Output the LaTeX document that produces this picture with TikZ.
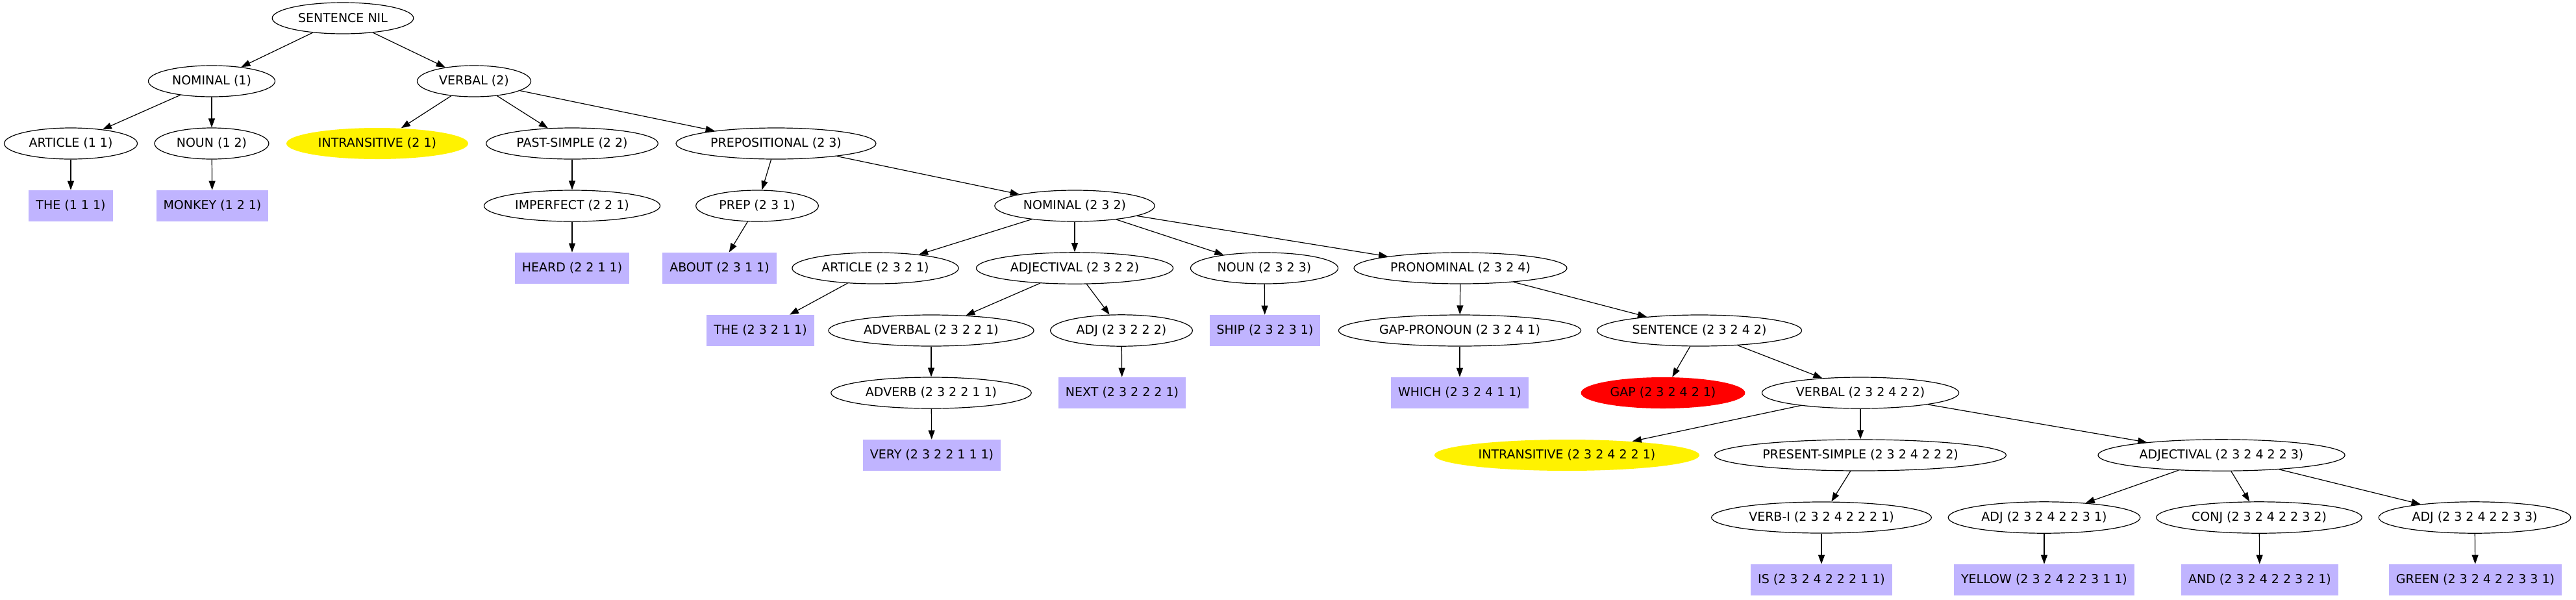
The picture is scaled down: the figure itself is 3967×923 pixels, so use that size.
\documentclass[tikz,border=0pt]{standalone}
\usepackage{fontspec}
\setmainfont{DejaVu Sans}
\usetikzlibrary{shapes.geometric,arrows.meta}

\definecolor{leaffill}{RGB}{192,180,255}

\tikzset{
    phrase/.style={draw, ellipse, line width=0.6pt, inner xsep=4pt, inner ysep=4pt,
        minimum height=24pt, font=\fontsize{9.5}{11}\selectfont},
    intrans/.style={phrase, draw=none, fill=yellow},
    gapnode/.style={phrase, draw=none, fill=red},
    word/.style={rectangle, fill=leaffill, inner xsep=5.5pt, minimum height=24pt,
        font=\fontsize{9.5}{11}\selectfont},
    branch/.style={-{Triangle[length=7pt,width=5pt]}, line width=0.6pt}
}

\begin{document}
\begin{tikzpicture}[x=0.5pt, y=-0.5pt]
    \useasboundingbox (0,0) rectangle (3967,923);

    % Top of the tree
    \node[phrase] (root) at (528,28) {SENTENCE NIL};
    \node[phrase] (nom1) at (326,125) {NOMINAL (1)};
    \node[phrase] (verb2) at (730,125) {VERBAL (2)};

    % Subject
    \node[phrase] (art11) at (109,221) {ARTICLE (1 1)};
    \node[phrase] (noun12) at (326,221) {NOUN (1 2)};
    \node[word] (the111) at (109,317) {THE (1 1 1)};
    \node[word] (monkey) at (327,317) {MONKEY (1 2 1)};

    % Verb phrase
    \node[intrans] (intr21) at (581,221) {INTRANSITIVE (2 1)};
    \node[phrase] (past22) at (881,221) {PAST-SIMPLE (2 2)};
    \node[phrase] (prepl23) at (1195,221) {PREPOSITIONAL (2 3)};
    \node[phrase] (imp221) at (881,317) {IMPERFECT (2 2 1)};
    \node[word] (heard) at (881,413) {HEARD (2 2 1 1)};
    \node[phrase] (prep231) at (1166,317) {PREP (2 3 1)};
    \node[word] (about) at (1108,413) {ABOUT (2 3 1 1)};

    % Object of the preposition
    \node[phrase] (nom232) at (1655,317) {NOMINAL (2 3 2)};
    \node[phrase] (art2321) at (1348,413) {ARTICLE (2 3 2 1)};
    \node[phrase] (adjl2322) at (1655,413) {ADJECTIVAL (2 3 2 2)};
    \node[phrase] (noun2323) at (1947,413) {NOUN (2 3 2 3)};
    \node[phrase] (pron2324) at (2249,413) {PRONOMINAL (2 3 2 4)};
    \node[word] (the23211) at (1171,509) {THE (2 3 2 1 1)};
    \node[phrase] (advl) at (1434,509) {ADVERBAL (2 3 2 2 1)};
    \node[phrase] (adj23222) at (1727,509) {ADJ (2 3 2 2 2)};
    \node[word] (ship) at (1948,509) {SHIP (2 3 2 3 1)};
    \node[phrase] (adverb) at (1434,605) {ADVERB (2 3 2 2 1 1)};
    \node[word] (next) at (1728,605) {NEXT (2 3 2 2 2 1)};
    \node[word] (very) at (1435,701) {VERY (2 3 2 2 1 1 1)};

    % Relative clause
    \node[phrase] (gappron) at (2248,509) {GAP-PRONOUN (2 3 2 4 1)};
    \node[phrase] (sent) at (2617,509) {SENTENCE (2 3 2 4 2)};
    \node[word] (which) at (2248,605) {WHICH (2 3 2 4 1 1)};
    \node[gapnode] (gap) at (2561,605) {GAP (2 3 2 4 2 1)};
    \node[phrase] (verbal) at (2865,605) {VERBAL (2 3 2 4 2 2)};
    \node[intrans] (intr) at (2413,701) {INTRANSITIVE (2 3 2 4 2 2 1)};
    \node[phrase] (pres) at (2865,701) {PRESENT-SIMPLE (2 3 2 4 2 2 2)};
    \node[phrase] (adjl) at (3421,701) {ADJECTIVAL (2 3 2 4 2 2 3)};
    \node[phrase] (verbi) at (2805,797) {VERB-I (2 3 2 4 2 2 2 1)};
    \node[phrase] (adj1) at (3148,797) {ADJ (2 3 2 4 2 2 3 1)};
    \node[phrase] (conj) at (3479,797) {CONJ (2 3 2 4 2 2 3 2)};
    \node[phrase] (adj3) at (3811,797) {ADJ (2 3 2 4 2 2 3 3)};
    \node[word] (is) at (2805,893) {IS (2 3 2 4 2 2 2 1 1)};
    \node[word] (yellow) at (3148,893) {YELLOW (2 3 2 4 2 2 3 1 1)};
    \node[word] (and) at (3480,893) {AND (2 3 2 4 2 2 3 2 1)};
    \node[word] (green) at (3812,893) {GREEN (2 3 2 4 2 2 3 3 1)};

    % Edges
    \foreach \a/\b in {root/nom1, root/verb2, nom1/art11, nom1/noun12,
        art11/the111, noun12/monkey, verb2/intr21, verb2/past22, verb2/prepl23,
        past22/imp221, imp221/heard, prepl23/prep231, prepl23/nom232,
        prep231/about, nom232/art2321, nom232/adjl2322, nom232/noun2323,
        nom232/pron2324, art2321/the23211, adjl2322/advl, adjl2322/adj23222,
        advl/adverb, adverb/very, adj23222/next, noun2323/ship,
        pron2324/gappron, pron2324/sent, gappron/which, sent/gap, sent/verbal,
        verbal/intr, verbal/pres, verbal/adjl, pres/verbi, verbi/is,
        adjl/adj1, adjl/conj, adjl/adj3, adj1/yellow, conj/and, adj3/green}
        \draw[branch] (\a) -- (\b);
\end{tikzpicture}
\end{document}
